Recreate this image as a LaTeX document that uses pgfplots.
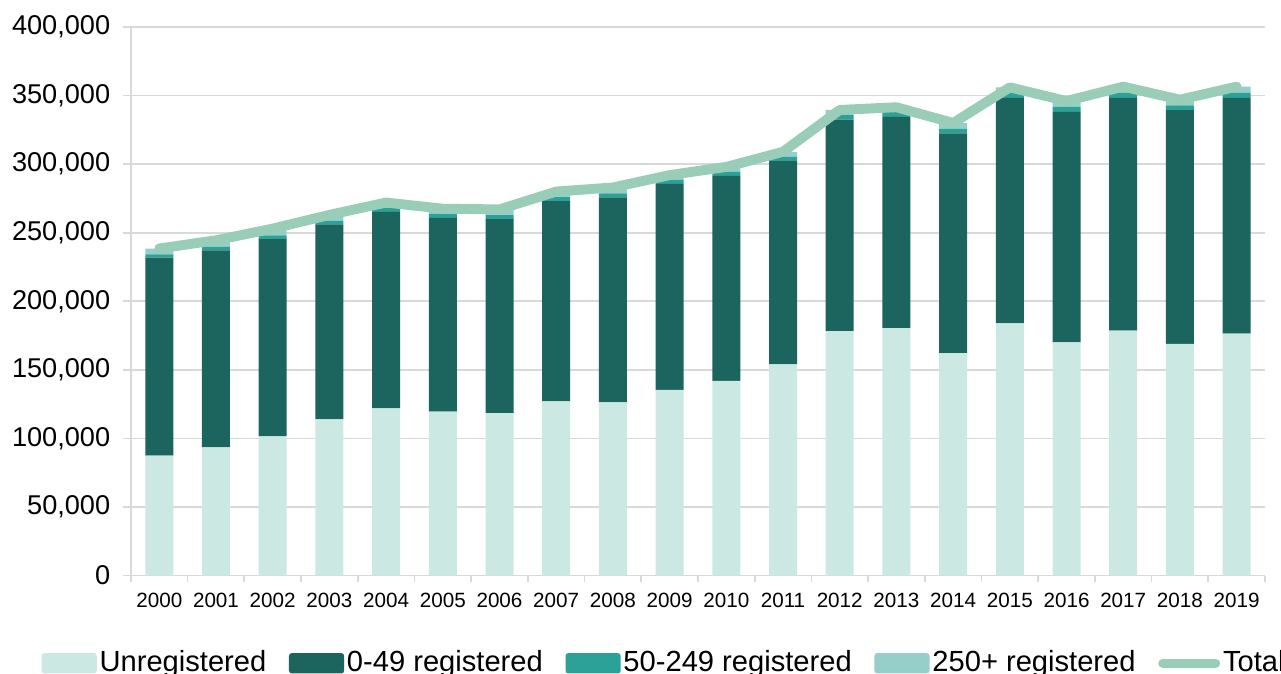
\documentclass[border=0pt]{standalone}
\usepackage{fontspec}
\setmainfont{Liberation Sans}
\usepackage{pgfplots}
\usepackage{pgfplotstable}
\pgfplotsset{compat=1.18}

\definecolor{unregc}{HTML}{CCE8E3}
\definecolor{smallc}{HTML}{1C645E}
\definecolor{midc}{HTML}{2CA197}
\definecolor{largec}{HTML}{96CFC9}
\definecolor{totalc}{HTML}{99CDB8}
\definecolor{gridc}{HTML}{D9D9D9}

% businesses by size band, 2000-2019
\pgfplotstableread{
x year unreg small mid large total
0  2000 87400  144400 2500 4200 238500
1  2001 93500  143700 2600 4700 244500
2  2002 101500 143800 2700 5000 253000
3  2003 114000 142000 2800 4200 263000
4  2004 122000 143200 2900 3900 272000
5  2005 119500 141300 2900 3800 267500
6  2006 118500 141500 2900 4100 267000
7  2007 127000 146000 3000 4000 280000
8  2008 126300 149400 3000 4300 283000
9  2009 135500 150100 3100 3300 292000
10 2010 142000 149500 3100 3400 298000
11 2011 154000 148200 3200 3600 309000
12 2012 178300 154200 3400 3600 339500
13 2013 180500 154000 3400 3600 341500
14 2014 162300 160100 3400 4200 330000
15 2015 184000 164400 3600 4000 356000
16 2016 170000 168200 3500 4300 346000
17 2017 178600 169800 3600 4500 356500
18 2018 169000 170400 3500 4100 347000
19 2019 176400 172000 3600 4500 356500
}\firms

\pgfplotsset{
  base/.style={
    scale only axis,
    width=401pt, height=194pt,
    xmin=-0.5, xmax=19.5,
    ymin=0, ymax=400000,
  },
  swatch/.style={
    legend image code/.code={\fill[##1, rounded corners=1pt] (0pt,-3.6pt) rectangle (19.5pt,3.6pt);}
  },
}

\begin{document}
\begin{tikzpicture}
\begin{axis}[
  base,
  name=main,
  ybar stacked,
  bar width=9.9pt,
  enlarge x limits=false,
  axis x line*=bottom,
  axis y line*=left,
  axis line style={gridc, line width=0.6pt},
  ymajorgrids=true,
  grid style={gridc, line width=0.6pt},
  ytick={0,50000,...,400000},
  scaled y ticks=false,
  /pgf/number format/fixed,
  /pgf/number format/1000 sep={,},
  /pgf/number format/assume math mode=true,
  xtick={0,...,19},
  xticklabels={2000,2001,2002,2003,2004,2005,2006,2007,2008,2009,2010,2011,2012,2013,2014,2015,2016,2017,2018,2019},
  minor xtick={-0.5,0.5,...,19.5},
  tick align=outside,
  major tick length=2.8pt,
  minor tick length=2.1pt,
  x tick style={draw=none},
  minor x tick style={gridc, line width=0.6pt, draw=gridc},
  y tick style={gridc, line width=0.6pt},
  yticklabel style={font=\fontsize{9.6}{11}\selectfont, xshift=-1pt},
  xticklabel style={font=\fontsize{7.3}{9}\selectfont},
  legend columns=5,
  legend style={
    draw=none, fill=none,
    at={(0.4705,-0.115)}, anchor=north,
    font=\fontsize{10.3}{12}\selectfont,
    /tikz/every even column/.append style={column sep=7pt},
    nodes={inner xsep=1pt},
  },
]
\addplot[fill=unregc, draw=none, swatch] table[x=x, y=unreg]{\firms};
\addlegendentry{Unregistered}
\addplot[fill=smallc, draw=none, swatch] table[x=x, y=small]{\firms};
\addlegendentry{0-49 registered}
\addplot[fill=midc, draw=none, swatch] table[x=x, y=mid]{\firms};
\addlegendentry{50-249 registered}
\addplot[fill=largec, draw=none, swatch] table[x=x, y=large]{\firms};
\addlegendentry{250+ registered}
\addlegendimage{legend image code/.code={\draw[totalc, line width=3.2pt, line cap=round] (0.8pt,0pt) -- (19.5pt,0pt);}}
\addlegendentry{Total}
\end{axis}
\begin{axis}[base, hide axis]
\addplot[totalc, line width=3.5pt, line cap=round, line join=round, mark=none] table[x=x, y=total]{\firms};
\end{axis}
% page frame: same margins round the plot area as the reference
\pgfresetboundingbox
\path ([xshift=-46.3pt, yshift=-34.65pt]main.south west) rectangle ([xshift=5.66pt, yshift=9.55pt]main.north east);
\end{tikzpicture}
\end{document}
